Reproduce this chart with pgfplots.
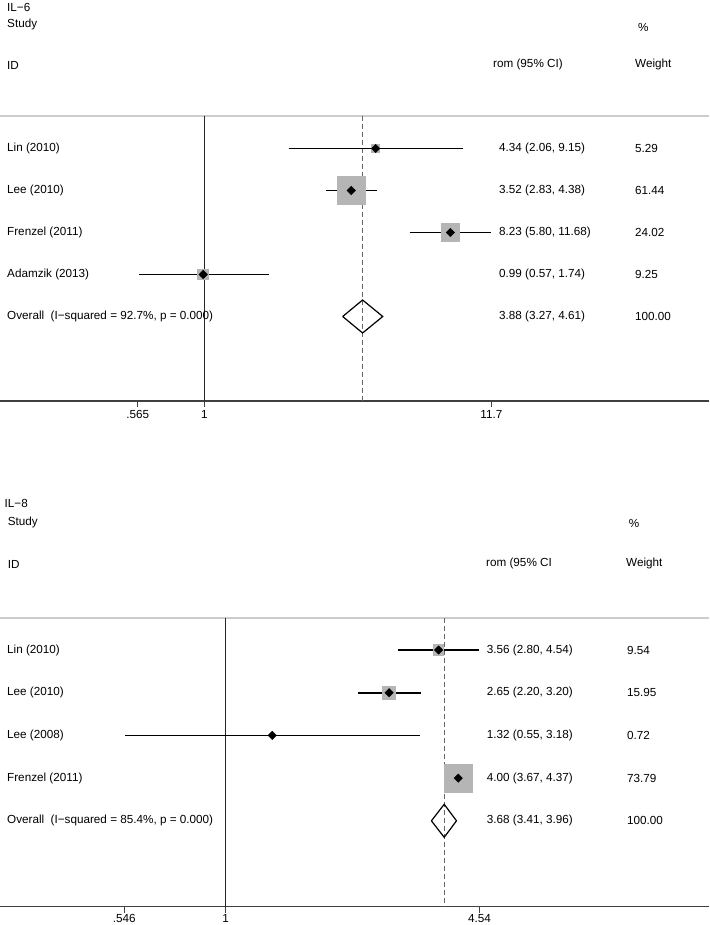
\documentclass[border=0pt]{standalone}
\usepackage{fontspec}
\setmainfont{Liberation Sans}
\usepackage{pgfplots}
\usepackage{pgfplotstable}
\pgfplotsset{compat=1.18}
\definecolor{boxgray}{gray}{0.71}
\definecolor{topgray}{gray}{0.80}
\definecolor{axgray}{gray}{0.25}
\definecolor{dashgray}{gray}{0.40}
\newcommand{\fs}{\fontsize{11.7pt}{14pt}\selectfont}

% IL-6 data: estimate, lower, upper, weight, row position (px)
\pgfplotstableread{
est  lo   hi    w     y
4.34 2.06 9.15  5.29  -148.5
3.52 2.83 4.38  61.44 -190.5
8.23 5.80 11.68 24.02 -232.5
0.99 0.57 1.74  9.25  -274.5
}\ilsix
% IL-8 data
\pgfplotstableread{
est  lo   hi    w     y
3.56 2.80 4.54  9.54  -650.0
2.65 2.20 3.20  15.95 -692.7
1.32 0.55 3.18  0.72  -735.4
4.00 3.67 4.37  73.79 -778.1
}\ileight

\tikzset{
  myci/.style={black, line width=1.7pt},
  myovd/.style={black, line width=1.2pt, line join=miter},
}

\begin{document}
\begin{tikzpicture}[font=\fs]
\useasboundingbox (0,0) rectangle (709pt,-925pt);

% ---------------- IL-6 ----------------
\begin{axis}[xmode=log, scale only axis, width=709pt, clip=false,
    axis x line=bottom, axis y line=none,
    x axis line style={-, draw=axgray, line width=1.3pt},
    tick align=outside, major tick length=6pt,
    xtick style={draw=axgray, line width=0.9pt},
    xminorticks=false, ytick=\empty,
    ticklabel style={font=\fs, text=black},
  height=285pt, at={(0pt,-401pt)}, anchor=south west,
  xmin=0.1735, xmax=75.5, ymin=-401, ymax=-116,
  xtick={0.565,1,11.7}, xticklabels={.565,1,11.7}]
\addplot[only marks, mark=square*, scatter, point meta=0,
  mark options={draw=boxgray, fill=boxgray, line width=0pt},
  visualization depends on={14*sqrt(\thisrow{w}/61.44) \as \msz},
  scatter/use mapped color={draw=boxgray, fill=boxgray},
  scatter/@pre marker code/.append style={/tikz/mark size=\msz}]
  table[x=est, y=y] {\ilsix};
\addplot[topgray, line width=2pt, no marks] coordinates {(0.1735,-116) (75.5,-116)};
\addplot[axgray!60!black, line width=1.3pt, no marks] coordinates {(1,-116) (1,-401)};
\addplot[dashgray, line width=1pt, dash pattern=on 5pt off 3pt, no marks] coordinates {(3.88,-116) (3.88,-401)};
\addplot[myci, no marks] coordinates {(2.06,-148.5) (9.15,-148.5)};
\addplot[myci, no marks] coordinates {(2.83,-190.5) (4.38,-190.5)};
\addplot[myci, no marks] coordinates {(5.80,-232.5) (11.68,-232.5)};
\addplot[myci, no marks] coordinates {(0.57,-274.5) (1.74,-274.5)};
\addplot[only marks, mark=square*, mark size=3pt, mark options={rotate=45, fill=black, draw=black}] table[x=est, y=y] {\ilsix};
\addplot[myovd, no marks] coordinates {(3.27,-316.5) (3.88,-300) (4.61,-316.5) (3.88,-333) (3.27,-316.5)};
\end{axis}

% ---------------- IL-8 ----------------
\begin{axis}[xmode=log, scale only axis, width=709pt, clip=false,
    axis x line=bottom, axis y line=none,
    x axis line style={-, draw=axgray, line width=1.3pt},
    tick align=outside, major tick length=6pt,
    xtick style={draw=axgray, line width=0.9pt},
    xminorticks=false, ytick=\empty,
    ticklabel style={font=\fs, text=black},
    xticklabel style={yshift=2pt},
  height=288.7pt, at={(0pt,-906.7pt)}, anchor=south west,
  xmin=0.2603, xmax=17.85, ymin=-906.7, ymax=-618,
  xtick={0.546,1,4.54}, xticklabels={.546,1,4.54}]
\addplot[only marks, mark=square*, scatter, point meta=0,
  mark options={draw=boxgray, fill=boxgray, line width=0pt},
  visualization depends on={14*sqrt(\thisrow{w}/73.79) \as \msz},
  scatter/use mapped color={draw=boxgray, fill=boxgray},
  scatter/@pre marker code/.append style={/tikz/mark size=\msz}]
  table[x=est, y=y] {\ileight};
\addplot[topgray, line width=2pt, no marks] coordinates {(0.2603,-618) (17.85,-618)};
\addplot[axgray!60!black, line width=1.3pt, no marks] coordinates {(1,-618) (1,-906.7)};
\addplot[dashgray, line width=1pt, dash pattern=on 5pt off 3pt, no marks] coordinates {(3.68,-618) (3.68,-906.7)};
\addplot[myci, no marks] coordinates {(2.80,-650.0) (4.54,-650.0)};
\addplot[myci, no marks] coordinates {(2.20,-692.7) (3.20,-692.7)};
\addplot[myci, no marks] coordinates {(0.55,-735.4) (3.18,-735.4)};
\addplot[myci, no marks] coordinates {(3.67,-778.1) (4.37,-778.1)};
\addplot[only marks, mark=square*, mark size=3pt, mark options={rotate=45, fill=black, draw=black}] table[x=est, y=y] {\ileight};
\addplot[myovd, no marks] coordinates {(3.41,-820.8) (3.68,-804.3) (3.96,-820.8) (3.68,-837.3) (3.41,-820.8)};
\end{axis}

% ---------------- texts ----------------
\begin{scope}[every node/.style={anchor=west, inner sep=0pt}]
\node at (7pt,-7pt) {IL−6};
\node at (7pt,-24pt) {Study};
\node at (638pt,-27pt) {\%};
\node at (7pt,-65pt) {ID};
\node at (493pt,-64pt) {rom (95\% CI)};
\node at (635pt,-64pt) {Weight};
\node at (7pt,-148.5pt) {Lin (2010)};
\node at (7pt,-190.5pt) {Lee (2010)};
\node at (7pt,-232.5pt) {Frenzel (2011)};
\node at (7pt,-274.5pt) {Adamzik (2013)};
\node at (7pt,-316.5pt) {Overall\ \ (I−squared = 92.7\%, p = 0.000)};
\node at (499pt,-148.5pt) {4.34 (2.06, 9.15)};
\node at (499pt,-190.5pt) {3.52 (2.83, 4.38)};
\node at (499pt,-232.5pt) {8.23 (5.80, 11.68)};
\node at (499pt,-274.5pt) {0.99 (0.57, 1.74)};
\node at (499pt,-316.5pt) {3.88 (3.27, 4.61)};
\node at (635pt,-148.5pt) {5.29};
\node at (635pt,-190.5pt) {61.44};
\node at (635pt,-232.5pt) {24.02};
\node at (635pt,-274.5pt) {9.25};
\node at (635pt,-316.5pt) {100.00};
\node at (4.5pt,-503pt) {IL−8};
\node at (7.7pt,-522pt) {Study};
\node at (628.6pt,-523pt) {\%};
\node at (7.7pt,-564pt) {ID};
\node at (486pt,-563pt) {rom (95\% CI};
\node at (626pt,-563pt) {Weight};
\node at (7pt,-650pt) {Lin (2010)};
\node at (7pt,-692.7pt) {Lee (2010)};
\node at (7pt,-735.4pt) {Lee (2008)};
\node at (7pt,-778.1pt) {Frenzel (2011)};
\node at (7pt,-820.8pt) {Overall\ \ (I−squared = 85.4\%, p = 0.000)};
\node at (486.7pt,-650pt) {3.56 (2.80, 4.54)};
\node at (486.7pt,-692.7pt) {2.65 (2.20, 3.20)};
\node at (486.7pt,-735.4pt) {1.32 (0.55, 3.18)};
\node at (486.7pt,-778.1pt) {4.00 (3.67, 4.37)};
\node at (486.7pt,-820.8pt) {3.68 (3.41, 3.96)};
\node at (627pt,-650pt) {9.54};
\node at (627pt,-692.7pt) {15.95};
\node at (627pt,-735.4pt) {0.72};
\node at (627pt,-778.1pt) {73.79};
\node at (627pt,-820.8pt) {100.00};
\end{scope}
\end{tikzpicture}
\end{document}
